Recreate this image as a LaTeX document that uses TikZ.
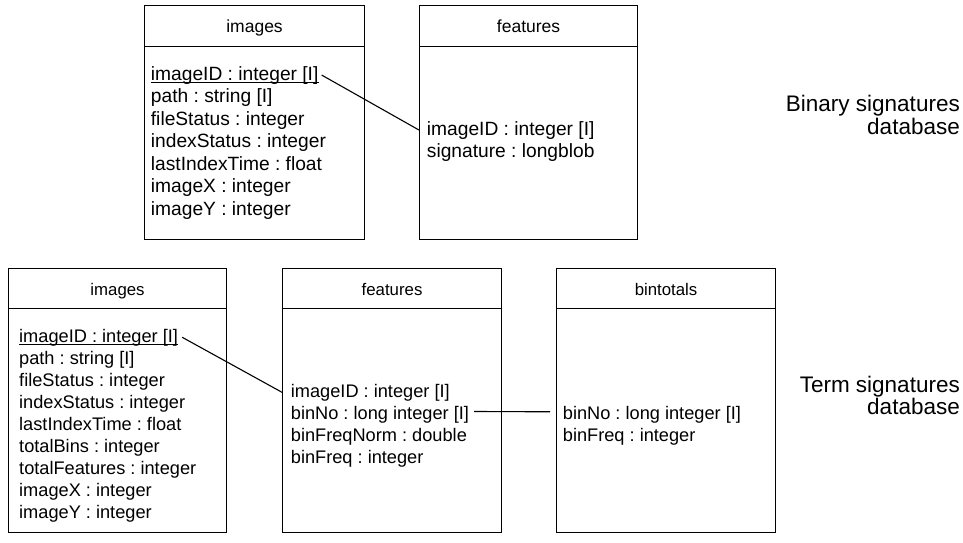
\documentclass[tikz,border=0pt]{standalone}
\usepackage{fontspec}
\setmainfont{Liberation Sans}
\frenchspacing
\begin{document}
\begin{tikzpicture}[x=1pt,y=-1pt,
  hdr/.style 2 args={draw, line width=1.1pt, anchor=north west, inner sep=0pt, minimum width=#1, minimum height=#2, text height=13pt, text depth=0pt},
  bodybox/.style 2 args={draw, line width=1.1pt, anchor=north west, inner sep=0pt, minimum width=#1, minimum height=#2},
  rowA/.style={anchor=base west, inner sep=0pt, font=\fontsize{19.2}{22}\selectfont},
  rowB/.style={anchor=base west, inner sep=0pt, font=\fontsize{18.2}{22}\selectfont},
  hA/.style={font=\fontsize{17.5}{20}\selectfont},
  hB/.style={font=\fontsize{16.8}{20}\selectfont},
  link/.style={line width=1.1pt},
  uline/.style={line width=1pt},
  side/.style={anchor=base east, inner sep=0pt, font=\fontsize{22.5}{23}\selectfont}
]
\useasboundingbox (0,0) rectangle (963,543);
\fill[white] (0,0) rectangle (963,543);

% ---------- Binary signatures database ----------
\node[hdr={220pt}{41pt}, hA] (iAh) at (144,5) {images};
\node[bodybox={220pt}{193pt}] (iAb) at (144,46) {};
\node[rowA] (iA0) at (150.7,80) {imageID : integer [I]};
\foreach \t [count=\i from 1] in {path : string [I], fileStatus : integer, indexStatus : integer, lastIndexTime : float, imageX : integer, imageY : integer}
  \node[rowA] (iA\i) at (150.7,80+22.5*\i) {\t};
\draw[uline] ([yshift=-2pt]iA0.base west) -- ([yshift=-2pt]iA0.base east);

\node[hdr={218pt}{41pt}, hA] (fAh) at (419,5) {features};
\node[bodybox={218pt}{193pt}] (fAb) at (419,46) {};
\node[rowA] (fA0) at (426.7,135) {imageID : integer [I]};
\node[rowA] (fA1) at (426.7,157) {signature : longblob};

\draw[link] ([xshift=3pt]iA0.east) -- (fA0.west -| fAb.west);

% ---------- Term signatures database ----------
\node[hdr={218pt}{40pt}, hB] (iBh) at (8,268) {images};
\node[bodybox={218pt}{224pt}] (iBb) at (8,308) {};
\node[rowB] (iB0) at (19,342) {imageID : integer [I]};
\foreach \t [count=\i from 1] in {path : string [I], fileStatus : integer, indexStatus : integer, lastIndexTime : float, totalBins : integer, totalFeatures : integer, imageX : integer, imageY : integer}
  \node[rowB] (iB\i) at (19,342+22*\i) {\t};
\draw[uline] ([yshift=-2pt]iB0.base west) -- ([yshift=-2pt]iB0.base east);

\node[hdr={219pt}{40pt}, hB] (fBh) at (282,268) {features};
\node[bodybox={219pt}{224pt}] (fBb) at (282,308) {};
\foreach \t [count=\i from 0] in {imageID : integer [I], binNo : long integer [I], binFreqNorm : double, binFreq : integer}
  \node[rowB] (fB\i) at (290.7,397+22.2*\i) {\t};

\node[hdr={219pt}{40pt}, hB] (bTh) at (556,268) {bintotals};
\node[bodybox={219pt}{224pt}] (bTb) at (556,308) {};
\node[rowB] (bT0) at (562.7,419.5) {binNo : long integer [I]};
\node[rowB] (bT1) at (562.7,441.5) {binFreq : integer};

\draw[link] ([xshift=4pt]iB0.east) -- (fB0.west -| fBb.west);
\draw[link] ([xshift=5pt,yshift=3pt]fB1.east) -- ([xshift=-6pt,yshift=3pt]bT0.west -| bTb.west);

% ---------- side labels ----------
\node[side] (lb1) at (960,111) {Binary signatures};
\node[side] (lb2) at (960,134) {database};
\node[side] (lt1) at (960,392) {Term signatures};
\node[side] (lt2) at (960,414) {database};
\end{tikzpicture}
\end{document}
